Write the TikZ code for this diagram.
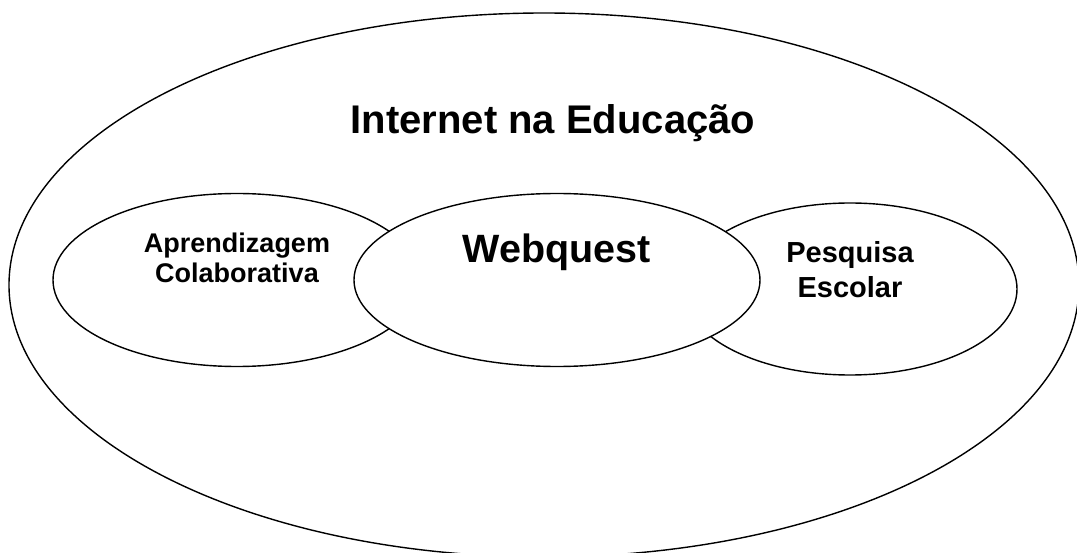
\documentclass[tikz,border=0pt]{standalone}
\usepackage{fontspec}
\setmainfont{Liberation Sans}
\usetikzlibrary{shapes.geometric}
\begin{document}
\begin{tikzpicture}[x=1pt,y=-1pt,
  blob/.style={ellipse,draw=black,line width=1.4pt,fill=white,inner sep=0pt,outer sep=0pt},
  lbl/.style={anchor=base,inner sep=0pt,outer sep=0pt}]
\useasboundingbox (0,0) rectangle (1077,553);
\clip (0,0) rectangle (1077,553);
\node[blob,fill=none,minimum width=1070pt,minimum height=544pt] (outer) at (544,285) {};
\node[blob,minimum width=368pt,minimum height=173pt] (left) at (237,280) {};
\node[blob,minimum width=334pt,minimum height=172pt] (right) at (850,289) {};
\node[blob,minimum width=406pt,minimum height=173pt] (mid) at (557,280) {};
\node[lbl,font=\bfseries\fontsize{40}{46}\selectfont] (title) at (553,134) {Internet na Educação};
\node[lbl,font=\bfseries\fontsize{39.5}{46}\selectfont] (web) at (557,263) {Webquest};
\node[lbl,font=\bfseries\fontsize{27}{31}\selectfont] (apr1) at (237,253) {Aprendizagem};
\node[lbl,font=\bfseries\fontsize{27}{31}\selectfont] (apr2) at (237,283) {Colaborativa};
\node[lbl,font=\bfseries\fontsize{29}{33}\selectfont] (pes1) at (850,263) {Pesquisa};
\node[lbl,font=\bfseries\fontsize{29}{33}\selectfont] (pes2) at (850,298) {Escolar};
\end{tikzpicture}
\end{document}
